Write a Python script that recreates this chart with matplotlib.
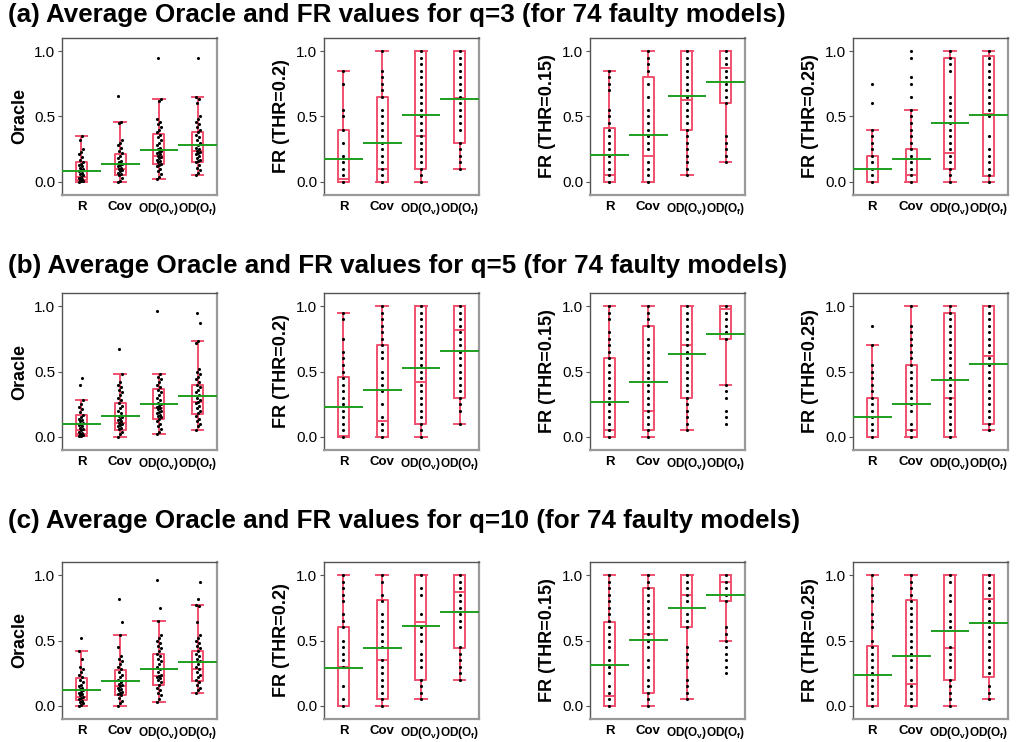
import matplotlib
import numpy as np

matplotlib.use("Agg")
import matplotlib.pyplot as plt  # noqa: E402

plt.rcParams["font.family"] = ["Liberation Sans", "DejaVu Sans"]
plt.rcParams["mathtext.fontset"] = "custom"
plt.rcParams["mathtext.rm"] = "Liberation Sans"
plt.rcParams["mathtext.bf"] = "Liberation Sans:bold"

methods = ["R", "Cov", r"$\mathbf{OD(O_{v})}$", r"$\mathbf{OD(O_{f})}$"]
ylabels = ["Oracle", "FR (THR=0.2)", "FR (THR=0.15)", "FR (THR=0.25)"]
row_titles = [
    "(a) Average Oracle and FR values for q=3 (for 74 faulty models)",
    "(b) Average Oracle and FR values for q=5 (for 74 faulty models)",
    "(c) Average Oracle and FR values for q=10 (for 74 faulty models)",
]

# box stats per method: whisker low, q1, median, q3, whisker high
# ---- q=3 ----
q3_oracle_stats = [[0.0, 0.013, 0.04, 0.15, 0.35], [0.0, 0.05, 0.095, 0.215, 0.46],
                   [0.02, 0.135, 0.20, 0.37, 0.63], [0.055, 0.15, 0.235, 0.385, 0.65]]
q3_oracle_mean = [0.08, 0.14, 0.245, 0.28]
q3_oracle_dots = [
    [0.0, 0.005, 0.01, 0.015, 0.02, 0.03, 0.04, 0.05, 0.06, 0.07, 0.08, 0.09, 0.1, 0.11,
     0.12, 0.13, 0.14, 0.15, 0.17, 0.19, 0.21, 0.23, 0.25, 0.32, 0.35],
    [0.0, 0.01, 0.03, 0.05, 0.06, 0.07, 0.08, 0.09, 0.1, 0.11, 0.12, 0.13, 0.14, 0.15, 0.16,
     0.18, 0.2, 0.22, 0.24, 0.26, 0.28, 0.3, 0.32, 0.45, 0.46, 0.66],
    [0.02, 0.04, 0.06, 0.08, 0.1, 0.12, 0.13, 0.14, 0.15, 0.16, 0.17, 0.18, 0.19, 0.2, 0.21,
     0.22, 0.23, 0.24, 0.25, 0.26, 0.28, 0.3, 0.32, 0.34, 0.36, 0.38, 0.4, 0.42, 0.44, 0.46,
     0.48, 0.62, 0.63, 0.95],
    [0.055, 0.07, 0.09, 0.11, 0.13, 0.15, 0.16, 0.17, 0.18, 0.2, 0.21, 0.22, 0.23, 0.24, 0.25,
     0.26, 0.28, 0.3, 0.32, 0.34, 0.36, 0.38, 0.4, 0.42, 0.44, 0.46, 0.48, 0.5, 0.6, 0.63,
     0.65, 0.95],
]
q3_fr02_stats = [[0.0, 0.0, 0.025, 0.40, 0.85], [0.0, 0.0, 0.10, 0.65, 1.0],
                 [0.0, 0.10, 0.35, 1.0, 1.0], [0.10, 0.30, 0.64, 1.0, 1.0]]
q3_fr02_mean = [0.175, 0.30, 0.515, 0.635]
q3_fr02_dots = [
    [0.0, 0.05, 0.1, 0.15, 0.2, 0.3, 0.4, 0.5, 0.55, 0.75, 0.85],
    [0.0, 0.05, 0.1, 0.15, 0.2, 0.25, 0.3, 0.35, 0.4, 0.45, 0.5, 0.55, 0.65, 0.7, 0.75,
     0.8, 0.85, 1.0],
    [0.0, 0.05, 0.1, 0.15, 0.2, 0.25, 0.3, 0.35, 0.4, 0.45, 0.5, 0.55, 0.6, 0.65, 0.7, 0.75,
     0.8, 0.85, 0.9, 0.95, 1.0],
    [0.1, 0.15, 0.2, 0.25, 0.3, 0.4, 0.45, 0.5, 0.55, 0.6, 0.65, 0.7, 0.75, 0.8, 0.85, 0.9,
     0.95, 1.0],
]
q3_fr015_stats = [[0.0, 0.0, 0.05, 0.41, 0.85], [0.0, 0.0, 0.20, 0.80, 1.0],
                  [0.05, 0.40, 0.625, 1.0, 1.0], [0.15, 0.60, 0.87, 1.0, 1.0]]
q3_fr015_mean = [0.205, 0.355, 0.655, 0.76]
q3_fr015_dots = [
    [0.0, 0.05, 0.1, 0.15, 0.2, 0.25, 0.3, 0.35, 0.4, 0.45, 0.5, 0.55, 0.7, 0.75, 0.8, 0.85],
    [0.0, 0.05, 0.1, 0.15, 0.25, 0.3, 0.35, 0.4, 0.45, 0.5, 0.55, 0.65, 0.75, 0.85, 0.9,
     0.95, 1.0],
    [0.05, 0.1, 0.15, 0.2, 0.25, 0.3, 0.35, 0.4, 0.45, 0.5, 0.55, 0.6, 0.65, 0.7, 0.75, 0.8,
     0.85, 0.9, 0.95, 1.0],
    [0.15, 0.2, 0.25, 0.3, 0.35, 0.6, 0.65, 0.7, 0.75, 0.8, 0.85, 0.9, 0.95, 1.0],
]
q3_fr025_stats = [[0.0, 0.0, 0.0, 0.20, 0.40], [0.0, 0.0, 0.05, 0.25, 0.55],
                  [0.0, 0.10, 0.22, 0.95, 1.0], [0.0, 0.045, 0.52, 0.96, 1.0]]
q3_fr025_mean = [0.10, 0.175, 0.45, 0.51]
q3_fr025_dots = [
    [0.0, 0.05, 0.1, 0.15, 0.2, 0.25, 0.3, 0.35, 0.4, 0.6, 0.75],
    [0.0, 0.05, 0.1, 0.15, 0.2, 0.25, 0.3, 0.35, 0.4, 0.45, 0.5, 0.55, 0.65, 0.75, 0.8,
     0.95, 1.0],
    [0.0, 0.05, 0.1, 0.15, 0.2, 0.25, 0.3, 0.35, 0.4, 0.45, 0.5, 0.55, 0.6, 0.65, 0.85,
     0.9, 0.95, 1.0],
    [0.0, 0.05, 0.1, 0.15, 0.2, 0.25, 0.35, 0.5, 0.55, 0.6, 0.65, 0.7, 0.75, 0.8, 0.85,
     0.9, 0.95, 1.0],
]

# ---- q=5 ----
q5_oracle_stats = [[0.005, 0.025, 0.05, 0.17, 0.28], [0.0, 0.055, 0.11, 0.26, 0.48],
                   [0.02, 0.135, 0.22, 0.365, 0.48], [0.05, 0.175, 0.27, 0.40, 0.73]]
q5_oracle_mean = [0.10, 0.16, 0.25, 0.31]
q5_oracle_dots = [
    [0.005, 0.01, 0.015, 0.02, 0.03, 0.04, 0.05, 0.06, 0.07, 0.08, 0.09, 0.1, 0.11, 0.12,
     0.13, 0.14, 0.15, 0.17, 0.19, 0.21, 0.23, 0.25, 0.28, 0.40, 0.45],
    [0.0, 0.02, 0.04, 0.06, 0.07, 0.08, 0.09, 0.1, 0.11, 0.12, 0.13, 0.14, 0.15, 0.16, 0.18,
     0.2, 0.22, 0.24, 0.26, 0.28, 0.3, 0.32, 0.34, 0.36, 0.38, 0.4, 0.42, 0.48, 0.67],
    [0.02, 0.04, 0.06, 0.08, 0.1, 0.12, 0.14, 0.15, 0.16, 0.17, 0.18, 0.19, 0.2, 0.21, 0.22,
     0.23, 0.24, 0.25, 0.26, 0.28, 0.3, 0.32, 0.34, 0.36, 0.38, 0.4, 0.42, 0.44, 0.46, 0.48,
     0.96],
    [0.05, 0.08, 0.1, 0.12, 0.14, 0.16, 0.18, 0.2, 0.22, 0.24, 0.26, 0.27, 0.28, 0.3, 0.32,
     0.34, 0.36, 0.38, 0.4, 0.42, 0.44, 0.46, 0.48, 0.5, 0.52, 0.72, 0.73, 0.87, 0.95],
]
q5_fr02_stats = [[0.0, 0.0, 0.01, 0.46, 0.95], [0.0, 0.0, 0.125, 0.70, 1.0],
                 [0.0, 0.10, 0.42, 1.0, 1.0], [0.10, 0.30, 0.82, 1.0, 1.0]]
q5_fr02_mean = [0.23, 0.355, 0.525, 0.66]
q5_fr02_dots = [
    [0.0, 0.05, 0.1, 0.15, 0.2, 0.25, 0.3, 0.35, 0.4, 0.45, 0.5, 0.55, 0.6, 0.65, 0.75,
     0.9, 0.95],
    [0.0, 0.05, 0.1, 0.15, 0.25, 0.35, 0.4, 0.45, 0.5, 0.6, 0.65, 0.7, 0.75, 0.8, 0.85,
     0.9, 0.95, 1.0],
    [0.0, 0.05, 0.1, 0.15, 0.2, 0.25, 0.3, 0.35, 0.4, 0.45, 0.5, 0.55, 0.6, 0.65, 0.7, 0.75,
     0.8, 0.85, 0.9, 0.95, 1.0],
    [0.1, 0.2, 0.25, 0.3, 0.35, 0.4, 0.45, 0.5, 0.55, 0.6, 0.65, 0.7, 0.75, 0.8, 0.85, 0.9,
     0.95, 1.0],
]
q5_fr015_stats = [[0.0, 0.0, 0.05, 0.60, 1.0], [0.0, 0.05, 0.20, 0.85, 1.0],
                  [0.05, 0.30, 0.70, 1.0, 1.0], [0.40, 0.75, 0.975, 1.0, 1.0]]
q5_fr015_mean = [0.265, 0.42, 0.635, 0.79]
q5_fr015_dots = [
    [0.0, 0.05, 0.1, 0.15, 0.2, 0.25, 0.3, 0.35, 0.4, 0.45, 0.5, 0.55, 0.6, 0.65, 0.7, 0.75,
     0.8, 0.9, 0.95, 1.0],
    [0.0, 0.05, 0.1, 0.15, 0.2, 0.25, 0.3, 0.35, 0.4, 0.45, 0.5, 0.55, 0.6, 0.65, 0.7, 0.75,
     0.85, 0.9, 0.95, 1.0],
    [0.05, 0.1, 0.15, 0.2, 0.25, 0.3, 0.35, 0.4, 0.45, 0.5, 0.55, 0.6, 0.65, 0.7, 0.75, 0.8,
     0.85, 0.9, 0.95, 1.0],
    [0.1, 0.15, 0.2, 0.3, 0.35, 0.4, 0.75, 0.8, 0.85, 0.9, 0.95, 1.0],
]
q5_fr025_stats = [[0.0, 0.0, 0.0, 0.30, 0.70], [0.0, 0.0, 0.05, 0.55, 1.0],
                  [0.0, 0.0, 0.30, 0.95, 1.0], [0.05, 0.095, 0.62, 1.0, 1.0]]
q5_fr025_mean = [0.155, 0.255, 0.435, 0.56]
q5_fr025_dots = [
    [0.0, 0.05, 0.1, 0.15, 0.2, 0.25, 0.3, 0.35, 0.4, 0.45, 0.5, 0.55, 0.7, 0.85],
    [0.0, 0.05, 0.1, 0.2, 0.25, 0.3, 0.35, 0.4, 0.45, 0.5, 0.55, 0.6, 0.65, 0.7, 0.75, 0.8,
     0.85, 1.0],
    [0.0, 0.05, 0.1, 0.15, 0.2, 0.25, 0.3, 0.35, 0.4, 0.45, 0.5, 0.55, 0.6, 0.65, 0.7, 0.75,
     0.8, 0.85, 0.9, 0.95, 1.0],
    [0.05, 0.1, 0.15, 0.2, 0.25, 0.3, 0.35, 0.4, 0.45, 0.5, 0.55, 0.6, 0.65, 0.7, 0.75, 0.8,
     0.85, 0.9, 0.95, 1.0],
]

# ---- q=10 ----
q10_oracle_stats = [[0.0, 0.045, 0.065, 0.21, 0.42], [0.0, 0.08, 0.15, 0.275, 0.545],
                    [0.03, 0.16, 0.23, 0.395, 0.65], [0.095, 0.19, 0.285, 0.42, 0.77]]
q10_oracle_mean = [0.125, 0.19, 0.285, 0.335]
q10_oracle_dots = [
    [0.0, 0.01, 0.02, 0.03, 0.04, 0.05, 0.06, 0.07, 0.08, 0.09, 0.1, 0.11, 0.12, 0.13, 0.14,
     0.15, 0.16, 0.18, 0.2, 0.22, 0.24, 0.26, 0.28, 0.3, 0.36, 0.42, 0.52],
    [0.0, 0.02, 0.04, 0.06, 0.08, 0.09, 0.1, 0.11, 0.12, 0.13, 0.14, 0.15, 0.16, 0.17, 0.18,
     0.2, 0.22, 0.24, 0.26, 0.28, 0.3, 0.32, 0.34, 0.36, 0.38, 0.45, 0.54, 0.64, 0.82],
    [0.03, 0.05, 0.08, 0.1, 0.12, 0.14, 0.16, 0.18, 0.2, 0.21, 0.22, 0.23, 0.24, 0.26, 0.28,
     0.3, 0.32, 0.34, 0.36, 0.38, 0.4, 0.42, 0.44, 0.46, 0.48, 0.5, 0.52, 0.54, 0.65, 0.75,
     0.96],
    [0.095, 0.12, 0.14, 0.16, 0.18, 0.2, 0.22, 0.24, 0.26, 0.28, 0.3, 0.32, 0.34, 0.36, 0.38,
     0.4, 0.42, 0.44, 0.46, 0.48, 0.5, 0.52, 0.54, 0.64, 0.76, 0.77, 0.82, 0.95],
]
q10_fr02_stats = [[0.0, 0.0, 0.30, 0.60, 1.0], [0.0, 0.05, 0.35, 0.81, 1.0],
                  [0.05, 0.20, 0.645, 1.0, 1.0], [0.20, 0.44, 0.87, 1.0, 1.0]]
q10_fr02_mean = [0.29, 0.44, 0.61, 0.715]
q10_fr02_dots = [
    [0.0, 0.05, 0.15, 0.3, 0.35, 0.4, 0.45, 0.5, 0.6, 0.65, 0.7, 0.8, 0.85, 0.9, 0.95, 1.0],
    [0.0, 0.05, 0.1, 0.15, 0.2, 0.25, 0.3, 0.35, 0.45, 0.5, 0.55, 0.6, 0.65, 0.7, 0.8,
     0.85, 0.95, 1.0],
    [0.05, 0.1, 0.15, 0.2, 0.3, 0.35, 0.4, 0.5, 0.55, 0.6, 0.7, 0.85, 0.9, 1.0],
    [0.2, 0.25, 0.3, 0.35, 0.4, 0.45, 0.6, 0.65, 0.7, 0.75, 0.8, 0.85, 0.9, 0.95, 1.0],
]
q10_fr015_stats = [[0.0, 0.0, 0.075, 0.645, 1.0], [0.0, 0.10, 0.55, 0.90, 1.0],
                   [0.05, 0.60, 0.845, 1.0, 1.0], [0.50, 0.80, 0.95, 1.0, 1.0]]
q10_fr015_mean = [0.31, 0.505, 0.75, 0.845]
q10_fr015_dots = [
    [0.0, 0.05, 0.1, 0.15, 0.25, 0.3, 0.35, 0.45, 0.5, 0.55, 0.6, 0.65, 0.7, 0.75, 0.8,
     0.85, 0.9, 0.95, 1.0],
    [0.0, 0.05, 0.1, 0.15, 0.2, 0.3, 0.35, 0.45, 0.5, 0.55, 0.6, 0.65, 0.7, 0.75, 0.8, 0.85,
     0.9, 0.95, 1.0],
    [0.05, 0.1, 0.15, 0.2, 0.3, 0.35, 0.4, 0.45, 0.6, 0.65, 0.7, 0.8, 0.85, 0.9, 0.95, 1.0],
    [0.25, 0.3, 0.35, 0.4, 0.45, 0.5, 0.55, 0.6, 0.8, 0.85, 0.9, 0.95, 1.0],
]
q10_fr025_stats = [[0.0, 0.0, 0.24, 0.46, 1.0], [0.0, 0.0, 0.17, 0.81, 1.0],
                   [0.0, 0.20, 0.445, 1.0, 1.0], [0.05, 0.22, 0.82, 1.0, 1.0]]
q10_fr025_mean = [0.235, 0.38, 0.57, 0.63]
q10_fr025_dots = [
    [0.0, 0.05, 0.1, 0.15, 0.2, 0.25, 0.3, 0.35, 0.4, 0.45, 0.5, 0.6, 0.65, 0.7, 0.8, 0.85,
     0.9, 1.0],
    [0.0, 0.05, 0.1, 0.15, 0.2, 0.3, 0.35, 0.4, 0.45, 0.5, 0.55, 0.6, 0.65, 0.7, 0.75, 0.8,
     0.85, 0.9, 0.95, 1.0],
    [0.0, 0.05, 0.1, 0.15, 0.2, 0.3, 0.35, 0.4, 0.45, 0.6, 0.65, 0.7, 0.8, 0.85, 0.95, 1.0],
    [0.05, 0.1, 0.15, 0.25, 0.3, 0.35, 0.4, 0.45, 0.5, 0.55, 0.6, 0.65, 0.7, 0.75, 0.8,
     0.85, 0.9, 0.95, 1.0],
]

rows = [
    [(q3_oracle_stats, q3_oracle_mean, q3_oracle_dots),
     (q3_fr02_stats, q3_fr02_mean, q3_fr02_dots),
     (q3_fr015_stats, q3_fr015_mean, q3_fr015_dots),
     (q3_fr025_stats, q3_fr025_mean, q3_fr025_dots)],
    [(q5_oracle_stats, q5_oracle_mean, q5_oracle_dots),
     (q5_fr02_stats, q5_fr02_mean, q5_fr02_dots),
     (q5_fr015_stats, q5_fr015_mean, q5_fr015_dots),
     (q5_fr025_stats, q5_fr025_mean, q5_fr025_dots)],
    [(q10_oracle_stats, q10_oracle_mean, q10_oracle_dots),
     (q10_fr02_stats, q10_fr02_mean, q10_fr02_dots),
     (q10_fr015_stats, q10_fr015_mean, q10_fr015_dots),
     (q10_fr025_stats, q10_fr025_mean, q10_fr025_dots)],
]

RED = "#f0506e"
GREEN = "#1e9e1e"
W, H = 1025, 742

fig = plt.figure(figsize=(W / 100, H / 100), dpi=100)

col_left = [62, 324, 590, 853]
row_top = [38, 293, 562]
title_y = [15, 266, 521]
ax_w, ax_h = 155, 157

for r, panels in enumerate(rows):
    fig.text(8 / W, 1 - title_y[r] / H, row_titles[r], fontsize=18.7, fontweight="bold",
             va="center", ha="left")
    for c, (stats, means, dots) in enumerate(panels):
        ax = fig.add_axes([col_left[c] / W, 1 - (row_top[r] + ax_h) / H, ax_w / W, ax_h / H])
        pos = np.arange(1, 5)
        bstats = [dict(whislo=s[0], q1=s[1], med=s[2], q3=s[3], whishi=s[4], fliers=[])
                  for s in stats]
        line = dict(color=RED, linewidth=1.4)
        ax.bxp(bstats, positions=pos, widths=0.28, capwidths=0.3, showfliers=False,
               boxprops=line, whiskerprops=line, capprops=line, medianprops=line,
               manage_ticks=False, zorder=2)
        for i, vals in enumerate(dots):
            vals = np.array(vals)
            if c == 0:
                # oracle values are spread a little sideways
                off = np.resize([-0.05, 0.0, 0.05, -0.025, 0.025], len(vals))
            else:
                off = np.zeros(len(vals))
            ax.scatter(pos[i] + off, vals, s=5, color="black", zorder=3, linewidths=0)
        ax.hlines(means, pos - 0.5, pos + 0.5, color=GREEN, linewidth=1.4, zorder=4)

        ax.set_xlim(0.5, 4.5)
        ax.set_ylim(-0.1, 1.1)
        ax.set_yticks([0.0, 0.5, 1.0])
        ax.set_yticklabels(["0.0", "0.5", "1.0"], fontsize=11)
        ax.set_xticks(pos)
        ax.set_xticklabels(methods, fontweight="bold")
        for k, lab in enumerate(ax.get_xticklabels()):
            lab.set_fontsize(9.5 if k < 2 else 8.5)
        ax.tick_params(axis="x", length=0, pad=4)
        ax.tick_params(axis="y", length=3, width=0.8, color="#555555", pad=2)
        ax.set_ylabel(ylabels[c], fontsize=13, fontweight="bold", labelpad=4)
        for side in ["top", "left"]:
            ax.spines[side].set_color("#555555")
            ax.spines[side].set_linewidth(1.0)
        for side in ["right", "bottom"]:
            ax.spines[side].set_color("#999999")
            ax.spines[side].set_linewidth(1.6)

fig.savefig("out.png", dpi=100)
